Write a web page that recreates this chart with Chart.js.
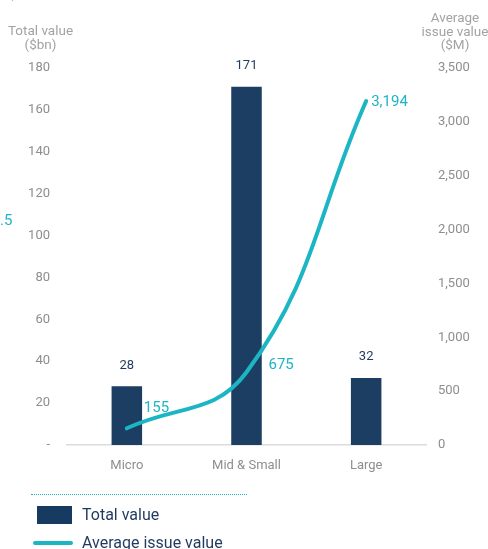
<!DOCTYPE html>
<html>
<head>
<meta charset="utf-8">
<script src="https://cdn.jsdelivr.net/npm/chart.js@4/dist/chart.umd.min.js"></script>
<style>
  body { margin: 0; background: #fff; font-family: Roboto, "Noto Sans", sans-serif; }
  #wrap { position: relative; width: 488px; height: 549px; overflow: hidden; }
  #chart { position: absolute; left: 0; top: 0; }
  .title { position: absolute; color: #a3a3a3; font-size: 13.5px; line-height: 13.5px; text-align: center; }
  .cut { position: absolute; color: #1cb5c4; font-size: 15px; }
  .dots { position: absolute; left: 31px; top: 494px; width: 216px; border-top: 1.5px dotted #1cb5c4; }
  .leg { position: absolute; left: 82px; color: #1f3a5f; font-size: 16px; line-height: 18px; }
  .sw-bar { position: absolute; left: 37px; top: 506px; width: 35px; height: 18px; background: #173a60; }
  .sw-line { position: absolute; left: 33px; top: 541px; width: 40px; height: 4px; border-radius: 2px; background: #1cb5c4; }
</style>
</head>
<body>
<div id="wrap">
  <canvas id="chart" width="488" height="549"></canvas>
  <div class="cut" style="left:3px; top:-15px;">1,</div>
  <div class="cut" style="left:0px; top:211px;">.5</div>
  <div class="title" style="left:0px; top:24px; width:81px;">Total value<br>($bn)</div>
  <div class="title" style="left:412px; top:11px; width:86px;">Average<br>issue value<br>($M)</div>
  <div class="dots"></div>
  <div class="sw-bar"></div>
  <div class="leg" style="top:506px;">Total value</div>
  <div class="sw-line"></div>
  <div class="leg" style="top:534px;">Average issue value</div>
</div>
<script>
/* DATA */

const categories = ["Micro", "Mid & Small", "Large"];

const totalValue = [28, 171, 32];

const avgIssueValue = [155, 675, 3194];

const leftTicks = [0, 20, 40, 60, 80, 100, 120, 140, 160, 180];

const rightTicks = [0, 500, 1000, 1500, 2000, 2500, 3000, 3500];

/* COLOURS */

const navy = "#1d3e63";
const cyan = "#1cb5c4";
const tickGray = "#8e8e8e";

/* VALUE LABELS */

const valueLabels = {
  id: "valueLabels",
  afterDatasetsDraw(chart) {
    const ctx = chart.ctx;
    ctx.save();
    ctx.textBaseline = "middle";

    // bar labels
    ctx.fillStyle = "#1f3a5f";
    ctx.font = "13px Roboto";
    ctx.textAlign = "center";
    chart.getDatasetMeta(0).data.forEach((bar, i) => {
      ctx.fillText(totalValue[i], bar.x, bar.y - 21);
    });

    // line labels
    ctx.fillStyle = cyan;
    ctx.font = "15px Roboto";
    ctx.textAlign = "left";
    const offsets = [[17, -20], [22, -7], [5, 1]];
    chart.getDatasetMeta(1).data.forEach((pt, i) => {
      ctx.fillText(
        avgIssueValue[i].toLocaleString("en-US"),
        pt.x + offsets[i][0],
        pt.y + offsets[i][1]
      );
    });

    ctx.restore();
  }
};

/* CHART */

new Chart(document.getElementById("chart"), {
  data: {
    labels: categories,
    datasets: [
      {
        type: "bar",
        data: totalValue,
        yAxisID: "y",
        backgroundColor: navy,
        barPercentage: 1,
        categoryPercentage: 0.255,
        order: 2
      },
      {
        type: "line",
        data: avgIssueValue,
        yAxisID: "y1",
        borderColor: cyan,
        borderWidth: 4,
        borderCapStyle: "round",
        tension: 0.42,
        pointRadius: 0,
        order: 1
      }
    ]
  },
  options: {
    responsive: false,
    animation: false,
    layout: {
      padding: { top: 68, bottom: 0, left: 0, right: 0 }
    },
    plugins: {
      legend: { display: false },
      tooltip: { enabled: false }
    },
    scales: {
      x: {
        grid: { display: false },
        border: { display: true, color: "#dcdcdc", width: 1.5 },
        ticks: {
          color: tickGray,
          font: { family: "Roboto", size: 13 },
          padding: 5
        },
        afterFit(scale) { scale.height = 104; }
      },
      y: {
        position: "left",
        min: 0,
        max: 180,
        grid: { display: false, drawTicks: false },
        border: { display: false },
        afterBuildTicks(scale) {
          scale.ticks = leftTicks.map(v => ({ value: v }));
        },
        ticks: {
          color: tickGray,
          font: { family: "Roboto", size: 13 },
          padding: 17,
          callback: v => (v === 0 ? "-" : v)
        },
        afterFit(scale) { scale.width = 67; }
      },
      y1: {
        position: "right",
        min: 0,
        max: 3500,
        grid: { display: false, drawTicks: false },
        border: { display: false },
        afterBuildTicks(scale) {
          scale.ticks = rightTicks.map(v => ({ value: v }));
        },
        ticks: {
          color: tickGray,
          font: { family: "Roboto", size: 13 },
          padding: 12,
          callback: v => v.toLocaleString("en-US")
        },
        afterFit(scale) { scale.width = 62; }
      }
    }
  },
  plugins: [valueLabels]
});
</script>
</body>
</html>
